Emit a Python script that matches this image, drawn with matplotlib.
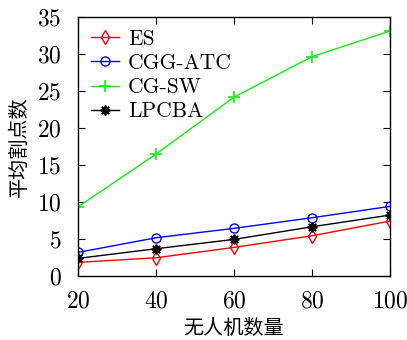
import numpy as np
import matplotlib.pyplot as plt

plt.rcParams['font.family'] = ['cmr10', 'Noto Sans CJK SC', 'DejaVu Serif']
plt.rcParams['axes.formatter.use_mathtext'] = True
plt.rcParams['mathtext.fontset'] = 'cm'

uav = [20, 40, 60, 80, 100]
es = [1.85, 2.47, 3.87, 5.44, 7.42]
cgg_atc = [3.2, 5.17, 6.44, 7.87, 9.4]
cg_sw = [9.35, 16.46, 24.15, 29.6, 33.06]
lpcba = [2.39, 3.69, 4.95, 6.65, 8.23]

fig = plt.figure(figsize=(4.07, 3.40), dpi=100)
ax = fig.add_axes([0.192, 0.188, 0.766, 0.763])

ax.plot(uav, es, color='#ff0000', marker='d', mfc='none', ms=7, lw=1, label='ES')
ax.plot(uav, cgg_atc, color='#0000ff', marker='o', mfc='none', ms=6.5, lw=1, label='CGG-ATC')
ax.plot(uav, cg_sw, color='#11f011', marker='+', ms=8, mew=1.2, lw=1, label='CG-SW')
ax.plot(uav, lpcba, color='black', marker=(8, 2, 0), ms=7, mew=1.3, lw=1, label='LPCBA')

ax.set_xlim(20, 100)
ax.set_ylim(0, 35)
ax.set_xticks(uav)
ax.set_yticks(np.arange(0, 36, 5))
ax.tick_params(direction='in', top=True, right=True, length=5, labelsize=17)
ax.tick_params(axis='x', pad=10)
ax.tick_params(axis='y', pad=12)
for s in ax.spines.values():
    s.set_linewidth(1)

ax.set_xlabel('无人机数量', family=['Noto Sans CJK SC'], fontsize=14.5, labelpad=4)
ax.set_ylabel('平均割点数', family=['Noto Sans CJK SC'], fontsize=14.5, labelpad=5)

ax.legend(loc='upper left', bbox_to_anchor=(0.015, 0.985), frameon=False,
          fontsize=15.5, handlelength=1.3, handletextpad=0.4,
          labelspacing=0.22, borderaxespad=0, borderpad=0.4)

fig.savefig('out.png', dpi=100)
